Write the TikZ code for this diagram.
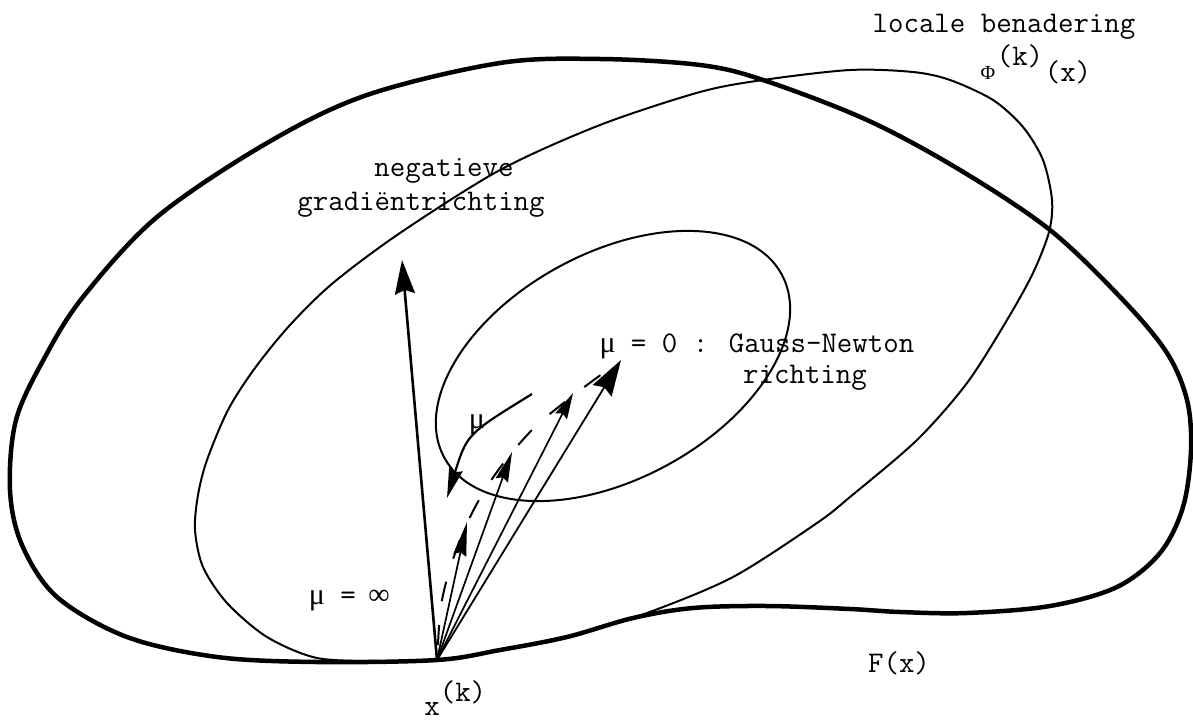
\documentclass[tikz,border=0pt]{standalone}
\usepackage{fontspec}
\newfontfamily\grk{Liberation Serif}
\usetikzlibrary{arrows.meta}
\newcommand{\chmu}{\makebox[0.525em]{\grk μ}}
\newcommand{\chinf}{\makebox[0.525em]{\grk ∞}}
\tikzset{
  fcurve/.style={line width=4.5pt, line join=round, line cap=round},
  phicurve/.style={line width=2pt, line join=round},
  vec/.style={line width=1.7pt},
  lbl/.style={font=\ttfamily\fontsize{30}{36}\selectfont, inner sep=0pt, anchor=base},
  dashcurve/.style={line width=2pt, dash pattern=on 20pt off 24pt}
}
\begin{document}
\begin{tikzpicture}[x=1pt,y=-1pt]
\path[use as bounding box] (0,0) rectangle (1193,722);

% key points
\coordinate (X) at (437,660);
\coordinate (G) at (402,260);
\coordinate (A1) at (467,522);
\coordinate (A2) at (512,452);
\coordinate (A3) at (573,393);
\coordinate (A4) at (621,360);
\coordinate (M1) at (532,394);
\coordinate (M2) at (447,498);
\coordinate (C) at (613,366);

% F(x) contour (thick)
\draw[fcurve] plot[smooth cycle, tension=0.55] coordinates {
 (437,660) (317,662) (217,657) (127,637) (57,597) (22,545) (10,490) (16,420)
 (45,357) (83,297) (157,217) (267,143) (367,95) (500,63) (600,59) (700,65)
 (763,80) (867,120) (960,170) (1050,230) (1123,300) (1167,353) (1187,400)
 (1191,450) (1183,507) (1160,553) (1117,587) (1050,606) (967,613) (900,612)
 (850,609) (767,606) (693,608) (633,618) (567,637) (500,650)};

% local approximation contour (thin)
\draw[phicurve] plot[smooth cycle, tension=0.5] coordinates {
 (437,660) (380,661) (317,658) (267,637) (227,603) (203,567) (195,530)
 (198,495) (207,460) (228,410) (255,368) (290,325) (333,283) (400,233)
 (500,170) (600,125) (700,92) (763,80) (850,70) (913,72) (950,80) (993,100)
 (1023,127) (1043,160) (1052,200) (1049,232) (1033,273) (1007,320) (967,383)
 (917,440) (850,497) (817,523) (733,577) (647,613) (580,633) (500,650)};

% inner contour (thin)
\draw[phicurve, rotate around={28.5:(C)}] (C) ellipse [x radius=192, y radius=113];

% gradient direction
\draw[line width=2.6pt, -{Stealth[length=34pt,width=20pt,inset=4pt]}] (X) -- (G);

% intermediate directions
\draw[vec, -{Stealth[length=34pt,width=13pt,inset=3pt]}] (X) -- (A1);
\draw[vec, -{Stealth[length=30pt,width=13pt,inset=3pt]}] (X) -- (A2);
\draw[vec, -{Stealth[length=26pt,width=13pt,inset=3pt]}] (X) -- (A3);
\draw[line width=1.8pt, -{Stealth[length=36pt,width=22pt,inset=4pt]}] (X) -- (A4);

% dashed trajectory
\draw[dashcurve] plot[smooth, tension=0.6] coordinates {
 (438,645) (443,595) (462,535) (490,482) (530,432) (570,398) (602,374)};

% mu arc arrow
\draw[line width=2.2pt, -{Stealth[length=30pt,width=14pt,inset=3pt]}]
  (M1) .. controls (467,434) .. (M2);

% labels
\node[lbl] (lb1) at (1004,33) {locale benadering};
\node[lbl, font=\grk\fontsize{20}{24}\selectfont] (phi) at (988,80) {Φ};
\node[lbl] (phik) at (1020,66) {(k)};
\node[lbl] (phix) at (1068,82) {(x)};

\node[lbl] (neg1) at (444,177) {negatieve};
\node[lbl] (neg2) at (421,210) {gradiëntrichting};

\node[lbl] (gn1) at (757,352) {\chmu{} = 0 : Gauss-Newton};
\node[lbl] (gn2) at (805,383) {richting};

\node[lbl] (mu) at (477,428) {\chmu};
\node[lbl] (muinf) at (348,604) {\chmu{} = \chinf};

\node[lbl] (xk) at (432,715) {x};
\node[lbl] (xkk) at (463,701) {(k)};

\node[lbl] (fx) at (899,672) {F(x)};
\end{tikzpicture}
\end{document}
